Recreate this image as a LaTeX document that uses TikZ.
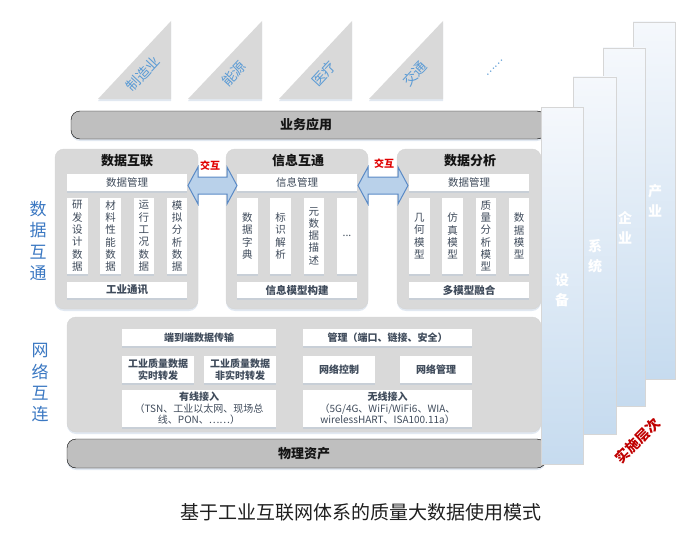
\documentclass[tikz,border=0pt]{standalone}
\usepackage{fontspec}
\setmainfont{Noto Sans CJK SC}
\usepackage{tikz}
\usetikzlibrary{calc,shadows}
\definecolor{boxgray}{HTML}{D9D9D9}
\definecolor{bargray}{HTML}{BFBFBF}
\definecolor{txtgray}{HTML}{3F4B5B}
\definecolor{lblue}{HTML}{5B9BD5}
\definecolor{sideblue}{HTML}{3B78C2}
\definecolor{arrfill}{HTML}{B9D1EA}
\definecolor{arrline}{HTML}{5A8AC6}
\definecolor{coltop}{HTML}{F5F8FC}
\definecolor{colmid}{HTML}{B3D0EA}
\definecolor{colbot}{HTML}{C6DBEF}
\definecolor{hired}{HTML}{E00000}
\definecolor{darkred}{HTML}{C00000}
\definecolor{shadowc}{HTML}{A9BED6}
\def\fsz#1#2{\fontsize{#1}{#2}\selectfont}
\def\dblarrow[#1](#2)(#3){\draw[#1] (#2) -- ++(10,-18.5) -- ++(0,10) -- ($(#3)+(-10,-8.5)$) -- ++(0,-10) -- (#3) -- ++(-10,18.5) -- ++(0,-10) -- ($(#2)+(10,8.5)$) -- ++(0,10) -- cycle;}

\tikzset{
	softshadow/.style={drop shadow={shadow xshift=0pt, shadow yshift=-2pt, opacity=.35, fill=shadowc}},
	graybox/.style={rounded corners=9pt, fill=boxgray, draw=black!17, softshadow},
	darkbar/.style={rounded corners=9pt, fill=bargray, softshadow},
	wbar/.style={fill=white, inner sep=0pt, text=txtgray, font=\fsz{10.5}{12}, softshadow},
	vbox/.style={wbar, minimum width=20.5, minimum height=76, align=center, font=\fsz{10.5}{12.3}},
	netbox/.style={wbar, align=center, font=\fsz{10}{11.5}\bfseries},
	title/.style={font=\fsz{13}{14}\bfseries, text=black!92},
	column/.style={draw=black!16, top color=coltop, middle color=colmid, bottom color=colbot},
	collabel/.style={text=white, align=center, font=\fsz{14}{20}\bfseries},
	sidelabel/.style={text=sideblue, align=center, font=\fsz{17}{21.3}},
	trilabel/.style={text=lblue, rotate=47, font=\fsz{14}{15}},
	hutong/.style={text=hired, font=\fsz{10}{11}\bfseries}
}

\begin{document}
\begin{tikzpicture}[x=1pt, y=-1pt]
			%%%%% START %%%%%
			\useasboundingbox (0,0) rectangle (699,535);
			
			% industries
			\fill[boxgray, softshadow] (98,99) -- (171,21) -- (171,99) -- cycle;
			\fill[boxgray, softshadow] (188,99) -- (262,21) -- (262,99) -- cycle;
			\fill[boxgray, softshadow] (279,99) -- (352,21) -- (352,99) -- cycle;
			\fill[boxgray, softshadow] (369,99) -- (443,21) -- (443,99) -- cycle;
			\node[trilabel] (zzy) at (143,74) {制造业};
			\node[trilabel] (ny) at (234,74) {能源};
			\node[trilabel] (yl) at (324,74) {医疗};
			\node[trilabel] (jt) at (415,74) {交通};
			\node[trilabel, font=\fsz{11}{12}] (more) at (495,68) {……};
			
			% application layer
			\draw[darkbar] (71,111) rectangle (546,139);
			\node[title] (ywyy) at (306,125) {业务应用};
			
			% data layer
			\draw[graybox] (55,149) rectangle (198,309);
			\draw[graybox] (226,149) rectangle (368,309);
			\draw[graybox] (397,149) rectangle (541,309);
			
			\node[title] (sjhl) at (127,161) {数据互联};
			\node[wbar, minimum width=120, minimum height=17] (sjgl1) at (127,182.5) {数据管理};
			\node[vbox] (yfsj) at (77.25,236) {研\\发\\设\\计\\数\\据};
			\node[vbox] (clxn) at (110.5,236) {材\\料\\性\\能\\数\\据};
			\node[vbox] (yxgk) at (143.75,236) {运\\行\\工\\况\\数\\据};
			\node[vbox] (mnfx) at (177,236) {模\\拟\\分\\析\\数\\据};
			\node[wbar, minimum width=120, minimum height=16, font=\fsz{10.5}{12}\bfseries] (gytx) at (127,290) {工业通讯};
			
			\node[title] (xxht) at (298,161) {信息互通};
			\node[wbar, minimum width=120, minimum height=17] (xxgl) at (297,182.5) {信息管理};
			\node[vbox] (sjzd) at (247.25,236) {数\\据\\字\\典};
			\node[vbox] (bsjx) at (280.5,236) {标\\识\\解\\析};
			\node[vbox] (ysjms) at (313.75,236) {元\\数\\据\\描\\述};
			\node[vbox] (etc) at (347,236) {...};
			\node[wbar, minimum width=120, minimum height=16, font=\fsz{10.5}{12}\bfseries] (xxmx) at (297,290) {信息模型构建};
			
			\node[title] (sjfx) at (470,161) {数据分析};
			\node[wbar, minimum width=120, minimum height=17] (sjgl2) at (469,182.5) {数据管理};
			\node[vbox] (jhmx) at (419.25,236) {几\\何\\模\\型};
			\node[vbox] (fzmx) at (452.5,236) {仿\\真\\模\\型};
			\node[vbox] (zlfx) at (485.75,236) {质\\量\\分\\析\\模\\型};
			\node[vbox] (sjmx) at (519,236) {数\\据\\模\\型};
			\node[wbar, minimum width=120, minimum height=16, font=\fsz{10.5}{12}\bfseries] (dmxrh) at (469,290) {多模型融合};
			
			\coordinate (a1l) at (188,185.5);
			\coordinate (a1r) at (237,185.5);
			\coordinate (a2l) at (358,185.5);
			\coordinate (a2r) at (408,185.5);
			\dblarrow[fill=arrfill, draw=arrline, line width=1pt](a1l)(a1r);
			\dblarrow[fill=arrfill, draw=arrline, line width=1pt](a2l)(a2r);
			\node[hutong] (jh1) at (210,166) {交互};
			\node[hutong] (jh2) at (384,164) {交互};
			
			% network layer
			\draw[graybox] (67,317) rectangle (541,432);
			\node[netbox, minimum width=154, minimum height=17] (ddd) at (199,337.5) {端到端数据传输};
			\node[netbox, minimum width=169, minimum height=17] (glaq) at (387.5,337.5) {管理（端口、链接、安全）};
			\node[netbox, minimum width=72, minimum height=27] (ssf) at (158,369.5) {工业质量数据\\实时转发};
			\node[netbox, minimum width=72, minimum height=27] (fssf) at (240,369.5) {工业质量数据\\非实时转发};
			\node[netbox, minimum width=72, minimum height=27] (wlkz) at (339,369.5) {网络控制};
			\node[netbox, minimum width=72, minimum height=27] (wlgl) at (436,369.5) {网络管理};
			\node[netbox, minimum width=154, minimum height=37] (yxjr) at (199,408.5) {有线接入\\{\mdseries （TSN、工业以太网、现场总}\\{\mdseries 线、PON、……）}};
			\node[netbox, minimum width=169, minimum height=37] (wxjr) at (387.5,408.5) {无线接入\\{\mdseries （5G/4G、WiFi/WiFi6、WIA、}\\{\mdseries wirelessHART、ISA100.11a）}};
			
			% physical layer
			\draw[darkbar] (67,439) rectangle (546,468);
			\node[title] (wlzc) at (304,453.5) {物理资产};
			
			\node[sidelabel] (sjht) at (38,241) {数\\据\\互\\通};
			\node[sidelabel] (wlhl) at (40,383) {网\\络\\互\\连};
			
			% levels
			\draw[column] (633,22) rectangle (675,379);
			\draw[column] (603,48) rectangle (645,406);
			\draw[column] (573,77) rectangle (616,434);
			\draw[column] (541,107) rectangle (583,464);
			\node[collabel] (cy) at (655,201) {产\\业};
			\node[collabel] (qy) at (625,228) {企\\业};
			\node[collabel] (xt) at (595,256) {系\\统};
			\node[collabel] (sb) at (562,290) {设\\备};
			\node[text=darkred, rotate=45, font=\fsz{14}{15}\bfseries] (sscc) at (638,441) {实施层次};
			
			\node[text=black!88, font=\fsz{19}{20}] (caption) at (361,512) {基于工业互联网体系的质量大数据使用模式};
			
			%%%%% END %%%%%
		\end{tikzpicture}
\end{document}
